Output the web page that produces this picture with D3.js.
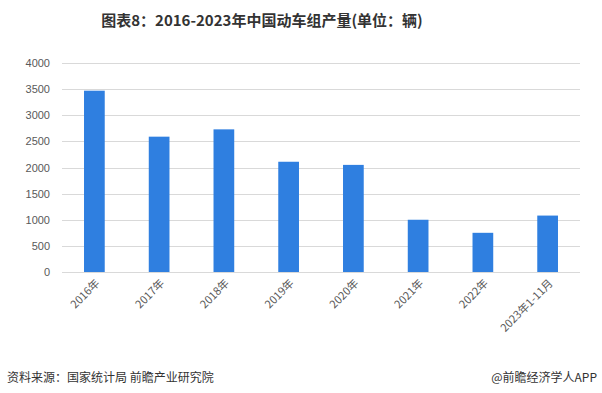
<!DOCTYPE html>
<html>
<head>
<meta charset="utf-8">
<style>
  body { margin: 0; background: #fff; }
  svg { display: block; }
  .grid line { stroke: #d9d9d9; stroke-width: 1px; }
  .tick text { fill: #595959; font: 11px "Liberation Sans", "Noto Sans CJK SC", sans-serif; }
</style>
</head>
<body>
<svg id="chart" width="602" height="393"></svg>
<script src="https://d3js.org/d3.v7.min.js"></script>
<script>
  // 2016-2023年中国动车组产量(辆)
  const years = ["2016年", "2017年", "2018年", "2019年", "2020年", "2021年", "2022年", "2023年1-11月"];
  const output = [3470, 2590, 2730, 2110, 2050, 1000, 750, 1080];
  const yTicks = [0, 500, 1000, 1500, 2000, 2500, 3000, 3500, 4000];

  const svg = d3.select("#chart");
  const plotL = 62, plotR = 580, plotT = 63, plotB = 272;

  const x = d3.scaleBand().domain(years).range([plotL, plotR]).paddingInner(0.68).paddingOuter(0.34);
  const y = d3.scaleLinear().domain([0, 4000]).range([plotB, plotT]);

  // title
  svg.append("text")
    .attr("x", 262).attr("y", 26)
    .attr("text-anchor", "middle")
    .style("font", "bold 15px 'Noto Sans CJK SC', sans-serif")
    .style("fill", "#333")
    .text("图表8：2016-2023年中国动车组产量(单位：辆)");

  // gridlines
  svg.append("g").attr("class", "grid")
    .selectAll("line").data(yTicks).join("line")
    .attr("x1", plotL).attr("x2", plotR)
    .attr("y1", d => Math.round(y(d)) + 0.5).attr("y2", d => Math.round(y(d)) + 0.5);

  // y axis labels
  const yAxis = svg.append("g")
    .attr("transform", "translate(" + (plotL - 12) + ",0)")
    .call(d3.axisLeft(y).tickValues(yTicks).tickFormat(d3.format("d")).tickSize(0).tickPadding(0));
  yAxis.select(".domain").remove();

  // bars
  svg.append("g").selectAll("rect").data(output).join("rect")
    .attr("x", (d, i) => x(years[i]))
    .attr("y", d => y(d))
    .attr("width", x.bandwidth())
    .attr("height", d => plotB - y(d))
    .attr("fill", "#2f7fe0");

  // x labels, rotated
  svg.append("g").selectAll("text").data(years).join("text")
    .attr("transform", d => "translate(" + (x(d) + x.bandwidth() / 2 + 6) + "," + (plotB + 12) + ") rotate(-45)")
    .attr("text-anchor", "end")
    .style("font", "11px 'Noto Sans CJK SC', sans-serif")
    .style("fill", "#595959")
    .text(d => d);

  // footer
  svg.append("text")
    .attr("x", 7).attr("y", 382)
    .style("font", "12px 'Noto Sans CJK SC', sans-serif")
    .style("fill", "#333")
    .text("资料来源：国家统计局 前瞻产业研究院");
  svg.append("text")
    .attr("x", 597).attr("y", 382)
    .attr("text-anchor", "end")
    .style("font", "12px 'Noto Sans CJK SC', sans-serif")
    .style("fill", "#333")
    .text("@前瞻经济学人APP");
</script>
</body>
</html>
